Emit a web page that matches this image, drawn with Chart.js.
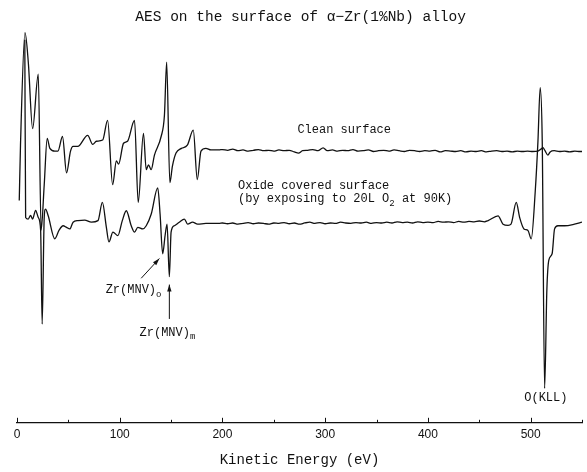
<!DOCTYPE html>
<html>
<head>
<meta charset="utf-8">
<script src="https://cdn.jsdelivr.net/npm/chart.js@4.4.1/dist/chart.umd.min.js"></script>
<style>
  html, body { margin: 0; padding: 0; background: #fff; }
</style>
</head>
<body>
<canvas id="aesChart" width="587" height="472"></canvas>
<script>
// AES spectra, dN/dE in arbitrary units (0..100)
const cleanEnergy = [
  2.2, 3.4, 7.8, 11.0, 15.2, 20.7, 23.5, 26.5, 29.4, 32.0, 36.8, 39.8, 44.3, 48.2, 52.1, 54.6,
  59.1, 68.8, 73.7, 77.3, 83.4, 88.2, 93.1, 96.7, 98.9, 103.7, 107.6, 114.4, 118.0, 123.1,
  125.8, 128.0, 130.6, 133.8, 140.3, 143.5, 145.7, 148.8, 151.3, 154.8, 160.0, 165.8, 171.6,
  175.5, 179.1, 183.9, 188.8, 196.8,
  200, 205, 210, 215, 220, 225, 230, 235, 240, 245, 250, 255, 260, 265, 270, 274, 278, 283,
  288, 293, 298, 302, 307, 312, 317, 322, 327, 332, 337, 342, 347, 352, 357, 362, 367, 372,
  377, 382, 387, 392, 397, 402, 407, 412, 417, 422, 427, 432, 437, 442, 447, 452, 457, 462,
  467, 472, 477, 482, 487, 492, 497, 502, 507, 510, 512, 514, 516.8, 519, 523, 528, 533, 538,
  543, 548, 550
];
const cleanSignal = [
  56.3, 70.3, 98.8, 91.3, 74.5, 88.3, 48.8, 60.3, 72.0, 69.5, 68.8, 68.8, 72.5, 63.3, 68.8, 70.0,
  70.0, 72.8, 70.5, 71.3, 71.6, 76.6, 60.3, 66.3, 65.5, 70.8, 71.3, 76.6, 55.8, 73.3,
  64.1, 65.3, 64.1, 67.8, 72.5, 77.8, 91.3, 60.8, 65.0, 68.3, 69.5, 70.3, 74.1,
  61.6, 68.8, 69.5, 69.1, 69.1,
  69.2, 69.0, 69.3, 68.9, 69.1, 68.8, 69.0, 69.2, 68.9, 69.0, 68.8, 69.1, 68.9, 69.0, 68.6, 68.3, 68.9, 69.0,
  69.2, 68.9, 69.6, 68.9, 69.1, 68.8, 69.0, 68.9, 69.2, 68.8, 68.9, 69.1, 68.7, 68.9, 69.0, 68.8, 69.1, 68.9,
  68.7, 69.0, 68.9, 68.7, 68.9, 68.8, 69.0, 68.6, 68.9, 68.8, 68.7, 68.9, 68.6, 68.8, 68.7, 68.9, 68.6, 68.8,
  68.9, 68.7, 68.8, 68.6, 68.8, 68.7, 68.8, 68.7, 68.8, 69.3, 69.7, 68.9, 67.8, 68.6, 68.9, 68.7, 68.8, 68.6,
  68.8, 68.7, 68.7
];

const oxideEnergy = [
  7.6, 8.4, 10.9, 13.2, 15.2, 18.1, 20.7, 23.0, 24.5, 26.5, 27.8, 30.3, 36.8, 41.0, 44.9, 48.2, 51.4,
  54.6, 59.4, 65.9, 72.4, 78.8, 83.1, 87.0, 89.5, 93.4, 98.2, 102.5, 106.4, 111.2, 114.4, 117.6,
  122.5, 125.8, 130.6, 137.0, 139.3, 141.8, 144.2, 146.1, 148.3, 150.0, 153.2, 158.0, 162.9,
  166.1, 170.9, 175.8, 183.9, 196.8,
  200, 205, 210, 215, 220, 225, 230, 235, 240, 245, 250, 255, 260, 265, 270, 275, 280, 285,
  290, 295, 300, 305, 310, 315, 320, 325, 330, 335, 340, 345, 350, 355, 360, 365, 370, 375,
  380, 385, 390, 395, 400, 405, 410, 415, 420, 425, 430, 435, 440, 445, 450, 455,
  458.6, 468.3, 473.1, 478.0, 480.9, 486.0, 489.3, 493.5, 497.4, 500.6, 504.5, 507.1, 509.3,
  511.3, 513.6, 515.8, 517.7, 520.9, 523.3, 526.5, 533.0, 542.7, 550
];
const oxideSignal = [
  97.0, 52.0, 51.6, 52.5, 51.6, 53.8, 52.0, 48.8, 25.0, 52.0, 54.1, 52.5, 46.6, 48.8, 49.9, 49.5, 49.1,
  50.8, 51.2, 51.3, 50.8, 51.2, 55.8, 49.5, 45.8, 48.3, 47.4, 51.2, 53.7, 49.9, 48.3, 49.5,
  49.1, 49.9, 52.8, 59.5, 52.8, 42.8, 47.5, 50.3, 37.0, 48.3, 49.9, 50.8, 51.6,
  50.3, 50.8, 50.3, 50.5, 50.5,
  50.6, 50.4, 50.6, 50.3, 50.5, 50.7, 50.4, 50.6, 50.5, 50.3, 50.6, 50.5, 50.7, 50.4, 50.6, 50.3, 50.6, 50.8,
  50.5, 50.7, 50.4, 50.6, 50.5, 50.8, 50.6, 50.5, 50.7, 50.6, 50.8, 50.5, 50.7, 50.6, 50.8, 50.6, 50.9, 50.7,
  50.8, 50.6, 50.9, 50.7, 50.8, 50.7, 51.0, 50.8, 50.9, 50.7, 51.0, 50.8, 51.0, 50.9, 51.1, 50.9,
  51.2, 52.4, 50.3, 50.0, 50.3, 55.8, 52.0, 49.1, 48.7, 46.6, 58.7, 71.2, 84.9,
  71.2, 8.7, 33.7, 41.2, 42.8, 49.1, 49.9, 49.9, 50.3, 50.8
];

// x axis: labels every 100 eV, minor marks every 50 eV
const tickLabels = [0, 100, 200, 300, 400, 500];

const toPoints = (xs, ys) => xs.map((x, i) => ({ x: x, y: ys[i] }));

const monoFont = "'Liberation Mono', 'Courier New', monospace";

// text notes placed in data coordinates
const notes = [
  { parts: [{ t: 'Clean surface' }], x: 318.5, y: 74.3, align: 'center' },
  { parts: [{ t: 'Oxide covered surface' }], x: 215.2, y: 59.9, align: 'left' },
  { parts: [{ t: '(by exposing to 20L O' }, { t: '2', sub: true }, { t: ' at 90K)' }], x: 215.2, y: 56.6, align: 'left' },
  { parts: [{ t: 'Zr(MNV)' }, { t: 'o', sub: true }], x: 86.3, y: 33.6, align: 'left' },
  { parts: [{ t: 'Zr(MNV)' }, { t: 'm', sub: true }], x: 119.3, y: 22.8, align: 'left' },
  { parts: [{ t: 'O(KLL)' }], x: 514.8, y: 6.3, align: 'center' }
];
const arrows = [
  { from: [120.9, 36.6], to: [138.6, 41.6] },
  { from: [148.3, 26.3], to: [148.3, 35.0] }
];

const notesPlugin = {
  id: 'notes',
  afterDraw(chart) {
    const ctx = chart.ctx;
    const xs = chart.scales.x;
    const ys = chart.scales.y;
    const area = chart.chartArea;
    ctx.save();
    ctx.strokeStyle = '#111';
    ctx.fillStyle = '#111';

    // tick marks pointing up from the axis line
    ctx.lineWidth = 1;
    xs.ticks.forEach(t => {
      const px = Math.round(xs.getPixelForValue(t.value)) + 0.5;
      const len = t.value % 100 === 0 ? 5 : 3;
      ctx.beginPath();
      ctx.moveTo(px, area.bottom);
      ctx.lineTo(px, area.bottom - len);
      ctx.stroke();
    });

    // labels
    ctx.textBaseline = 'middle';
    notes.forEach(n => {
      const widths = n.parts.map(p => {
        ctx.font = (p.sub ? '9px ' : '12px ') + monoFont;
        return ctx.measureText(p.t).width;
      });
      const total = widths.reduce((a, b) => a + b, 0);
      let px = xs.getPixelForValue(n.x);
      if (n.align === 'center') px -= total / 2;
      const py = ys.getPixelForValue(n.y);
      n.parts.forEach((p, i) => {
        ctx.font = (p.sub ? '9px ' : '12px ') + monoFont;
        ctx.textAlign = 'left';
        ctx.fillText(p.t, px, p.sub ? py + 4 : py);
        px += widths[i];
      });
    });

    // arrows
    ctx.lineWidth = 1;
    arrows.forEach(a => {
      const x1 = xs.getPixelForValue(a.from[0]), y1 = ys.getPixelForValue(a.from[1]);
      const x2 = xs.getPixelForValue(a.to[0]), y2 = ys.getPixelForValue(a.to[1]);
      const ang = Math.atan2(y2 - y1, x2 - x1);
      ctx.beginPath();
      ctx.moveTo(x1, y1);
      ctx.lineTo(x2, y2);
      ctx.stroke();
      ctx.beginPath();
      ctx.moveTo(x2, y2);
      ctx.lineTo(x2 - 7 * Math.cos(ang) + 2.2 * Math.sin(ang), y2 - 7 * Math.sin(ang) - 2.2 * Math.cos(ang));
      ctx.lineTo(x2 - 7 * Math.cos(ang) - 2.2 * Math.sin(ang), y2 - 7 * Math.sin(ang) + 2.2 * Math.cos(ang));
      ctx.closePath();
      ctx.fill();
    });
    ctx.restore();
  }
};

const ctx = document.getElementById('aesChart').getContext('2d');
const aesChart = new Chart(ctx, {
  type: 'line',
  data: {
    datasets: [{
      label: 'Clean surface',
      data: toPoints(cleanEnergy, cleanSignal),
      borderColor: '#111',
      borderWidth: 1.3,
      pointRadius: 0,
      cubicInterpolationMode: 'monotone'
    }, {
      label: 'Oxide covered surface',
      data: toPoints(oxideEnergy, oxideSignal),
      borderColor: '#111',
      borderWidth: 1.3,
      pointRadius: 0,
      cubicInterpolationMode: 'monotone'
    }]
  },
  options: {
    responsive: false,
    animation: false,
    layout: {
      padding: { left: 17, right: 2.7, top: 0, bottom: 0 }
    },
    plugins: {
      legend: { display: false },
      tooltip: { enabled: false },
      title: {
        display: true,
        text: 'AES on the surface of α−Zr(1%Nb) alloy',
        color: '#111',
        font: { family: monoFont, size: 14.5, weight: 'normal' },
        padding: { top: 8, bottom: 2.5 }
      }
    },
    scales: {
      x: {
        type: 'linear',
        min: 0,
        max: 550,
        grid: { display: false, drawTicks: false },
        border: { display: true, color: '#111', width: 1.2 },
        ticks: {
          stepSize: 50,
          autoSkip: false,
          maxRotation: 0,
          padding: 5,
          color: '#111',
          font: { family: "'Liberation Sans', Arial, sans-serif", size: 12 },
          callback: v => tickLabels.includes(v) ? String(v) : ''
        },
        title: {
          display: true,
          text: 'Kinetic Energy (eV)',
          color: '#111',
          font: { family: monoFont, size: 14 },
          padding: { top: 5, bottom: 3 }
        }
      },
      y: {
        display: false,
        min: 0,
        max: 100
      }
    }
  },
  plugins: [notesPlugin]
});
</script>
</body>
</html>
